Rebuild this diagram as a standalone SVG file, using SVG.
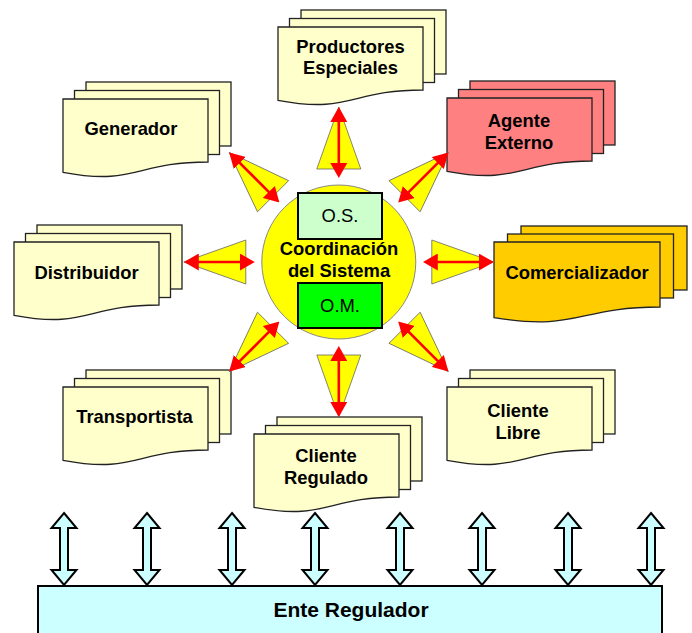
<svg xmlns="http://www.w3.org/2000/svg" xmlns:xlink="http://www.w3.org/1999/xlink" width="692" height="633" viewBox="0 0 692 633">
<style>
.doc{stroke:#222;stroke-width:1.3}
.lt{fill:#FFFFCC}
.rd{fill:#FF8080}
.or{fill:#FFCC00}
.t{font-family:"Liberation Sans",Arial,sans-serif;font-size:18.4px;font-weight:bold;fill:#000;text-anchor:middle}
.tr{font-family:"Liberation Sans",Arial,sans-serif;font-size:18.4px;fill:#000;text-anchor:middle}
.ray{fill:#FFFF00;stroke:#666;stroke-width:0.8}
.rl{stroke:#FF0000;stroke-width:2.6;fill:none;marker-start:url(#ah);marker-end:url(#ah)}
.barr{fill:#CCFFFF;stroke:#000;stroke-width:2;stroke-linejoin:miter}
</style>
<defs>
<g id="md">
<rect x="23" y="-17" width="145" height="64"/>
<rect x="11.5" y="-8.5" width="145" height="64"/>
<path d="M0,0 H145 V63 C72.5,63 72.5,87 0,73.3 Z"/>
</g>
<g id="mdw">
<rect x="27" y="-16" width="166" height="64"/>
<rect x="13.5" y="-8" width="166" height="64"/>
<path d="M0,0 H166 V65 C83,65 83,89.7 0,75.6 Z"/>
</g>
<marker id="ah" markerWidth="15" markerHeight="17" refX="9" refY="8.5" orient="auto-start-reverse" markerUnits="userSpaceOnUse">
<path d="M0,0 L15,8.5 L0,17 Z" fill="#FF0000"/>
</marker>
<g id="ray">
<polygon class="ray" points="93,-22 155,0 93,22"/>
<line class="rl" x1="90" y1="0" x2="149" y2="0"/>
</g>
<path id="ba" class="barr" d="M0,513 L12.5,528 L4,528 L4,570 L12.5,570 L0,585 L-12.5,570 L-4,570 L-4,528 L-12.5,528 Z"/>
</defs>

<g id="ente-regulador">
<rect x="38" y="586" width="624" height="60" fill="#CCFFFF" stroke="#000" stroke-width="2"/>
<text class="t" x="351" y="617" style="font-size:21px">Ente Regulador</text>
</g>

<g id="productores-especiales">
<use xlink:href="#md" href="#md" class="doc lt" x="278" y="27"/>
<text class="t" x="350.5" y="52.5">Productores</text>
<text class="t" x="350.5" y="73.5">Especiales</text>
</g>

<g id="generador">
<use xlink:href="#md" href="#md" class="doc lt" x="63" y="99"/>
<text class="t" x="131" y="135">Generador</text>
</g>

<g id="agente-externo">
<use xlink:href="#md" href="#md" class="doc rd" x="447" y="98"/>
<text class="t" x="519" y="127">Agente</text>
<text class="t" x="519" y="148.5">Externo</text>
</g>

<g id="distribuidor">
<use xlink:href="#md" href="#md" class="doc lt" x="14" y="242"/>
<text class="t" x="86.5" y="279">Distribuidor</text>
</g>

<g id="comercializador">
<use xlink:href="#mdw" href="#mdw" class="doc or" x="494" y="242"/>
<text class="t" x="577" y="279">Comercializador</text>
</g>

<g id="transportista">
<use xlink:href="#md" href="#md" class="doc lt" x="63" y="387"/>
<text class="t" x="134.5" y="423">Transportista</text>
</g>

<g id="cliente-libre">
<use xlink:href="#md" href="#md" class="doc lt" x="447" y="387"/>
<text class="t" x="518" y="417">Cliente</text>
<text class="t" x="518" y="438.5">Libre</text>
</g>

<g id="cliente-regulado">
<use xlink:href="#md" href="#md" class="doc lt" x="254" y="434"/>
<text class="t" x="326" y="462">Cliente</text>
<text class="t" x="326" y="483.5">Regulado</text>
</g>

<g id="coordinacion">
<circle cx="338.8" cy="262" r="77" fill="#FFFF00" stroke="#888" stroke-width="1"/>
<text class="t" x="339" y="255">Coordinación</text>
<text class="t" x="339" y="277">del Sistema</text>
</g>

<g id="os">
<rect x="298" y="193" width="84" height="46" fill="#CCFFCC" stroke="#000" stroke-width="2"/>
<text class="tr" x="340" y="222">O.S.</text>
</g>

<g id="om">
<rect x="298" y="283" width="84" height="45" fill="#00FF00" stroke="#000" stroke-width="2"/>
<text class="tr" x="340" y="312">O.M.</text>
</g>

<g id="connectors">
<g transform="translate(338.8,262)">
<use xlink:href="#ray" href="#ray" transform="rotate(0)"/>
<use xlink:href="#ray" href="#ray" transform="rotate(45)"/>
<use xlink:href="#ray" href="#ray" transform="rotate(90)"/>
<use xlink:href="#ray" href="#ray" transform="rotate(135)"/>
<use xlink:href="#ray" href="#ray" transform="rotate(180)"/>
<use xlink:href="#ray" href="#ray" transform="rotate(225)"/>
<use xlink:href="#ray" href="#ray" transform="rotate(270)"/>
<use xlink:href="#ray" href="#ray" transform="rotate(315)"/>
</g>
<use xlink:href="#ba" href="#ba" x="64"/>
<use xlink:href="#ba" href="#ba" x="147"/>
<use xlink:href="#ba" href="#ba" x="232"/>
<use xlink:href="#ba" href="#ba" x="315"/>
<use xlink:href="#ba" href="#ba" x="400"/>
<use xlink:href="#ba" href="#ba" x="482"/>
<use xlink:href="#ba" href="#ba" x="568"/>
<use xlink:href="#ba" href="#ba" x="651"/>
</g>
</svg>
